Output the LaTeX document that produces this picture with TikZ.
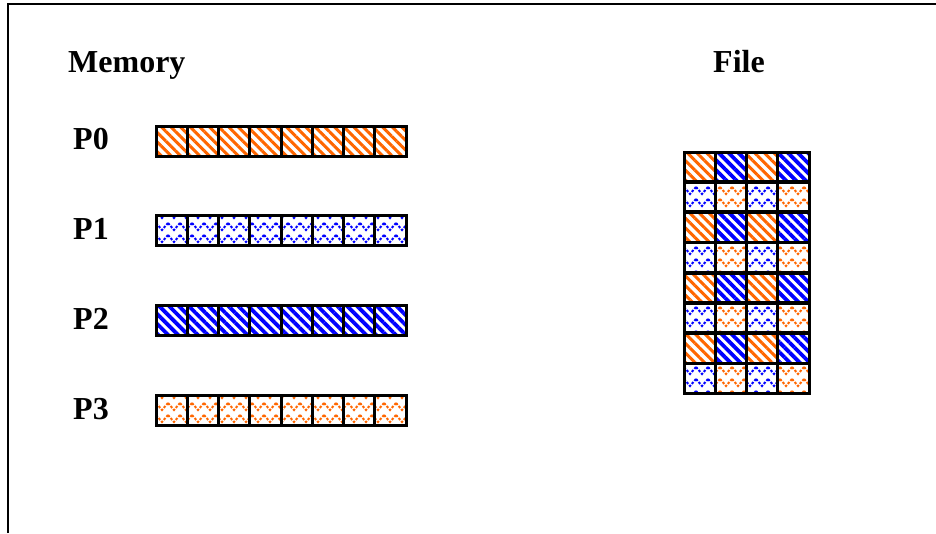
\documentclass[tikz,border=0pt]{standalone}
\usepackage{fontspec}
\setmainfont{Liberation Serif}
\usetikzlibrary{patterns,patterns.meta}
\definecolor{porange}{HTML}{FF6600}
\definecolor{pblue}{HTML}{0000FF}
\pgfdeclarepatternformonly{zigzagdots}{\pgfqpoint{-1pt}{-1pt}}{\pgfqpoint{13pt}{13pt}}{\pgfqpoint{12pt}{12pt}}{%
  \pgfsetlinewidth{2pt}%
  \pgfsetdash{{2.5pt}{1.5pt}}{0pt}%
  \pgfpathmoveto{\pgfqpoint{0pt}{10pt}}%
  \pgfpathlineto{\pgfqpoint{6pt}{3pt}}%
  \pgfpathlineto{\pgfqpoint{12pt}{10pt}}%
  \pgfusepath{stroke}%
}
\tikzset{
  cell/.style={draw=black, line width=3pt, minimum width=31.25pt, minimum height=30pt, inner sep=0pt, anchor=north west},
  fcell/.style={cell, minimum height=29.5pt},
  pzero/.style={pattern={Lines[angle=-45,distance=6.8pt,line width=3pt]}, pattern color=porange},
  pone/.style={pattern=zigzagdots, pattern color=pblue},
  ptwo/.style={pattern={Lines[angle=-45,distance=7pt,line width=3.8pt]}, pattern color=pblue},
  pthree/.style={pattern=zigzagdots, pattern color=porange},
  lbl/.style={font=\fontsize{32}{36}\selectfont\bfseries, inner sep=0pt, anchor=base west},
}
\begin{document}
\begin{tikzpicture}[x=1pt,y=-1pt]
\useasboundingbox (0,0) rectangle (936,533);
\draw[line width=2.5pt] (8,533) -- (8,4) -- (936,4);
\node[lbl] (mem) at (68,72) {Memory};
\node[lbl] (file) at (713,72) {File};
\node[lbl] (l0) at (73,149) {P0};
\node[lbl] (l1) at (73,239) {P1};
\node[lbl] (l2) at (73,329) {P2};
\node[lbl] (l3) at (73,419) {P3};
\foreach \c in {0,...,7} {
  \node[cell,pzero] (m0-\c) at (154.5+\c*31.25,124.5) {};
  \node[cell,pone] (m1-\c) at (154.5+\c*31.25,213.5) {};
  \node[cell,ptwo] (m2-\c) at (154.5+\c*31.25,303.5) {};
  \node[cell,pthree] (m3-\c) at (154.5+\c*31.25,393.5) {};
}
\foreach \r in {0,2,4,6} {
  \node[fcell,pzero] (f\r-0) at (682.5,150.5+\r*30.25) {};
  \node[fcell,ptwo] (f\r-1) at (682.5+31.25,150.5+\r*30.25) {};
  \node[fcell,pzero] (f\r-2) at (682.5+2*31.25,150.5+\r*30.25) {};
  \node[fcell,ptwo] (f\r-3) at (682.5+3*31.25,150.5+\r*30.25) {};
}
\foreach \r in {1,3,5,7} {
  \node[fcell,pone] (f\r-0) at (682.5,150.5+\r*30.25) {};
  \node[fcell,pthree] (f\r-1) at (682.5+31.25,150.5+\r*30.25) {};
  \node[fcell,pone] (f\r-2) at (682.5+2*31.25,150.5+\r*30.25) {};
  \node[fcell,pthree] (f\r-3) at (682.5+3*31.25,150.5+\r*30.25) {};
}
\end{tikzpicture}
\end{document}
